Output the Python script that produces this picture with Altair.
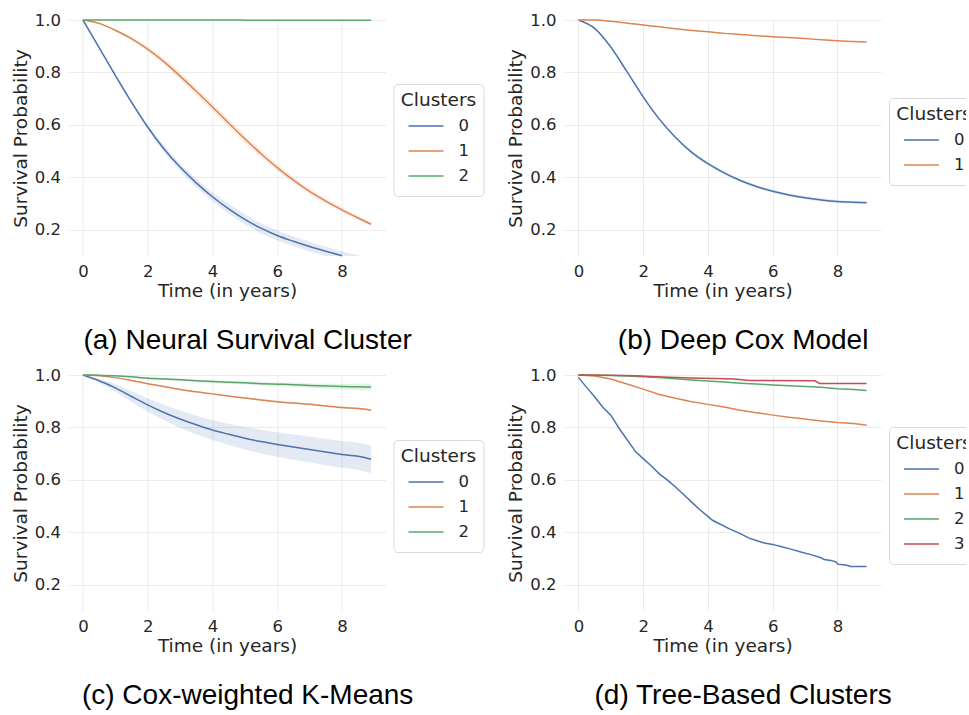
import altair as alt
import pandas as pd

# ---------------- data ----------------
T = [0, 0.5, 1, 1.5, 2, 2.5, 3, 3.5, 4, 4.5, 5, 5.5, 6, 6.5, 7, 7.5, 8, 8.5, 8.9]

# (a) Neural Survival Cluster
a0 = [1.0, 0.895, 0.789, 0.687, 0.592, 0.509, 0.439, 0.379, 0.326, 0.28, 0.24, 0.206, 0.178, 0.156, 0.136, 0.118, 0.101, 0.087, 0.077]
a0_hw = [0, 0.003, 0.005, 0.007, 0.009, 0.012, 0.014, 0.016, 0.017, 0.018, 0.019, 0.019, 0.019, 0.019, 0.018, 0.018, 0.017, 0.016, 0.016]
a1 = [1.0, 0.987, 0.961, 0.929, 0.889, 0.841, 0.786, 0.728, 0.668, 0.607, 0.547, 0.49, 0.437, 0.389, 0.346, 0.309, 0.276, 0.245, 0.221]
a1_hw = [0, 0.003, 0.005, 0.008, 0.01, 0.012, 0.014, 0.015, 0.015, 0.015, 0.015, 0.014, 0.013, 0.012, 0.011, 0.01, 0.009, 0.008, 0.008]
a2 = [1.0, 1.0, 1.0, 1.0, 1.0, 1.0, 1.0, 1.0, 1.0, 1.0, 0.9995, 0.9995, 0.9995, 0.9995, 0.999, 0.999, 0.999, 0.999, 0.999]
a2_hw = [0] * 19

# (b) Deep Cox Model
b0 = [1.0, 0.968, 0.897, 0.803, 0.707, 0.622, 0.552, 0.495, 0.452, 0.417, 0.388, 0.365, 0.347, 0.333, 0.322, 0.314, 0.308, 0.305, 0.303]
b0_hw = [0, 0.001, 0.002, 0.003, 0.004, 0.005, 0.005, 0.006, 0.006, 0.006, 0.006, 0.006, 0.006, 0.006, 0.006, 0.006, 0.006, 0.006, 0.006]
b1 = [1.0, 1.0, 0.995, 0.988, 0.981, 0.974, 0.967, 0.96, 0.955, 0.949, 0.945, 0.94, 0.936, 0.933, 0.929, 0.925, 0.921, 0.918, 0.916]
b1_hw = [0, 0, 0.001, 0.001, 0.001, 0.001, 0.001, 0.001, 0.001, 0.001, 0.001, 0.001, 0.001, 0.001, 0.001, 0.001, 0.001, 0.001, 0.001]

# (c) Cox-weighted K-Means
c0 = [1.0, 0.978, 0.951, 0.918, 0.886, 0.857, 0.832, 0.81, 0.79, 0.774, 0.759, 0.746, 0.735, 0.725, 0.716, 0.706, 0.697, 0.69, 0.679]
c0_hw = [0, 0.008, 0.015, 0.02, 0.025, 0.03, 0.033, 0.036, 0.038, 0.04, 0.043, 0.045, 0.047, 0.048, 0.049, 0.05, 0.051, 0.052, 0.053]
c1 = [1.0, 0.997, 0.99, 0.979, 0.967, 0.956, 0.945, 0.936, 0.928, 0.92, 0.912, 0.905, 0.898, 0.893, 0.888, 0.882, 0.876, 0.872, 0.866]
c1_hw = [0, 0.001, 0.001, 0.002, 0.002, 0.003, 0.003, 0.003, 0.003, 0.004, 0.004, 0.004, 0.004, 0.004, 0.004, 0.004, 0.004, 0.004, 0.004]
c2 = [1.0, 0.999, 0.997, 0.993, 0.988, 0.985, 0.982, 0.978, 0.975, 0.972, 0.97, 0.967, 0.965, 0.963, 0.96, 0.958, 0.956, 0.955, 0.954]
c2_hw = [0, 0.001, 0.002, 0.003, 0.004, 0.004, 0.005, 0.005, 0.006, 0.006, 0.006, 0.007, 0.007, 0.008, 0.009, 0.01, 0.011, 0.013, 0.014]

# (d) Tree-Based Clusters (Kaplan-Meier style)
d0_t = [0, 0.28, 0.5, 0.74, 1.0, 1.26, 1.51, 1.77, 2.0, 2.23, 2.49, 2.75, 3.0, 3.24, 3.49, 3.75, 4.0, 4.14, 4.4, 4.65, 5.0, 5.27, 5.49, 5.74, 6.0, 6.25, 6.56, 6.87, 7.18, 7.49, 7.59, 7.8, 7.95, 8.02, 8.26, 8.41, 8.9]
d0 = [0.991, 0.949, 0.917, 0.879, 0.847, 0.796, 0.752, 0.707, 0.681, 0.656, 0.624, 0.599, 0.573, 0.545, 0.516, 0.486, 0.461, 0.446, 0.43, 0.414, 0.395, 0.378, 0.369, 0.359, 0.354, 0.346, 0.336, 0.325, 0.315, 0.303, 0.296, 0.293, 0.287, 0.278, 0.275, 0.27, 0.27]
d1 = [1.0, 0.996, 0.985, 0.966, 0.946, 0.926, 0.911, 0.898, 0.888, 0.878, 0.866, 0.856, 0.847, 0.839, 0.832, 0.825, 0.819, 0.815, 0.808]
d2 = [1.0, 0.9995, 0.998, 0.996, 0.993, 0.99, 0.986, 0.981, 0.977, 0.973, 0.969, 0.966, 0.962, 0.959, 0.956, 0.953, 0.948, 0.945, 0.941]
d3_t = [0, 1.0, 1.8, 2.2, 2.8, 3.5, 4.2, 4.8, 5.3, 7.3, 7.45, 8.9]
d3 = [1.0, 0.999, 0.997, 0.994, 0.991, 0.989, 0.987, 0.985, 0.979, 0.978, 0.968, 0.968]

COLORS = ["#4c72b0", "#dd8452", "#55a868", "#c44e52"]


def frame(series):
    rows = []
    for name, ts, vals, hw in series:
        for i, (t, v) in enumerate(zip(ts, vals)):
            h = hw[i] if hw else 0
            rows.append({"t": t, "s": v, "lo": v - h, "hi": v + h, "cluster": name, "grp": name})
    return pd.DataFrame(rows)


def panel(df, clusters, caption, legend_y, interp, bands=True):
    dom = [str(c) for c in clusters]
    cscale = alt.Scale(domain=dom, range=COLORS[: len(dom)])
    cenc = alt.Color("cluster:N", scale=cscale,
                     legend=alt.Legend(title="Clusters", orient="none", legendX=325, legendY=legend_y))
    xenc = alt.X("t:Q", scale=alt.Scale(domain=[-0.445, 9.345], nice=False, zero=False),
                 axis=alt.Axis(values=[0, 2, 4, 6, 8], title="Time (in years)"))
    yscale = alt.Scale(domain=[0.1, 1.0], nice=False, zero=False)
    yaxis = alt.Axis(values=[0.2, 0.4, 0.6, 0.8, 1.0], format=".1f", title="Survival Probability")
    base = alt.Chart(df)
    line = base.mark_line(strokeWidth=1.5, interpolate=interp, clip=False).encode(
        x=xenc,
        y=alt.Y("s:Q", scale=yscale, axis=yaxis),
        color=cenc,
    ).transform_filter("datum.s >= 0.0999")
    layers = []
    if bands:
        band = base.mark_area(opacity=0.15, interpolate=interp, clip=True).encode(
            x=xenc,
            y=alt.Y("lo:Q", scale=yscale, axis=yaxis),
            y2="hi:Q",
            fill=alt.Fill("grp:N", scale=alt.Scale(range=COLORS[: len(dom)]), legend=None),
        )
        layers.append(band)
    layers.append(line)
    return alt.layer(*layers).properties(
        width=317, height=236,
        title=alt.TitleParams(caption, orient="bottom", anchor="middle", frame="bounds",
                              font="Liberation Sans", fontSize=28, fontWeight="normal",
                              color="#000000", offset=27),
    )


dfa = frame([("0", T, a0, a0_hw), ("1", T, a1, a1_hw), ("2", T, a2, a2_hw)])
dfb = frame([("0", T, b0, b0_hw), ("1", T, b1, b1_hw)])
dfc = frame([("0", T, c0, c0_hw), ("1", T, c1, c1_hw), ("2", T, c2, c2_hw)])
dfd = frame([("0", d0_t, d0, None), ("1", T, d1, None), ("2", T, d2, None), ("3", d3_t, d3, None)])

pa = panel(dfa, [0, 1, 2], "(a) Neural Survival Cluster", 64, "monotone")
pb = panel(dfb, [0, 1], "(b) Deep Cox Model", 78, "monotone")
pc = panel(dfc, [0, 1, 2], "(c) Cox-weighted K-Means", 65, "monotone")
pd_ = panel(dfd, [0, 1, 2, 3], "(d) Tree-Based Clusters", 52, "linear", bands=False)


def indep(c):
    return c.resolve_scale(color="independent", fill="independent").resolve_legend(
        color="independent", fill="independent")


row1 = indep(alt.hconcat(pa, pb, spacing=21.5))
row2 = indep(alt.hconcat(pc, pd_, spacing=21.5))

chart = indep(alt.vconcat(row1, row2, spacing=12)).configure(
    padding={"left": 10.5, "top": 12, "right": -14, "bottom": 0},
    font="DejaVu Sans",
).configure_view(
    stroke=None
).configure_axis(
    grid=True, gridColor="#ebebeb", gridWidth=1, domain=False, ticks=False,
    labelFont="DejaVu Sans", labelFontSize=16.5, labelColor="#262626", labelPadding=7,
    titleFont="DejaVu Sans", titleFontSize=18.5, titleColor="#262626", titleFontWeight="normal",
    titlePadding=2,
).configure_axisY(
    titlePadding=4, labelPadding=8,
).configure_legend(
    titleFont="DejaVu Sans", titleFontSize=18.5, titleFontWeight="normal", titleColor="#262626",
    titleAnchor="middle", titlePadding=4,
    labelFont="DejaVu Sans", labelFontSize=16.5, labelColor="#262626",
    symbolType="stroke", symbolSize=1225, symbolStrokeWidth=1.5, symbolOpacity=1,
    clipHeight=25, rowPadding=0,
    labelOffset=14, padding=7, fillColor="#ffffff", strokeColor="#d9d9d9", cornerRadius=4,
)

chart.save("out.html", embed_options={"renderer": "svg", "actions": False})
